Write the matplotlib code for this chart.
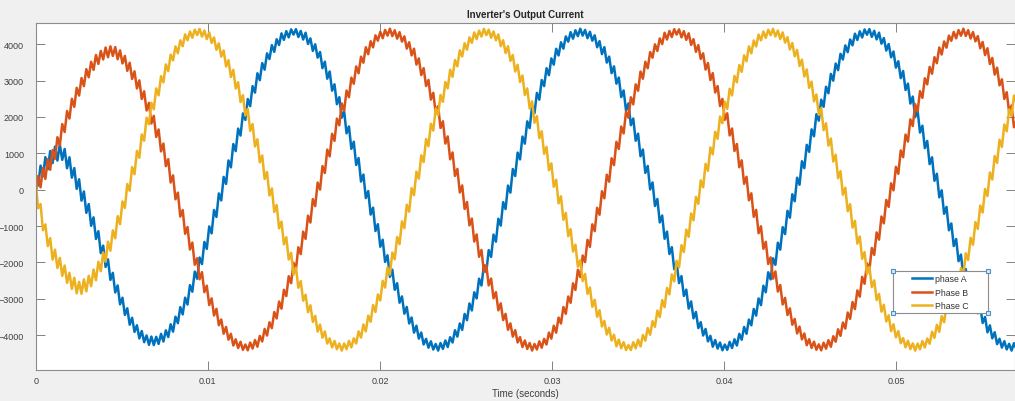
import numpy as np
import matplotlib
matplotlib.use("Agg")
import matplotlib.pyplot as plt
from matplotlib.patches import Rectangle

plt.rcParams["font.family"] = ["Liberation Sans", "DejaVu Sans"]

# sample times (ms): start-up transient read every 0.5 ms, then 15-degree steps of 60 Hz
t_ms = [0.0, 0.5, 1.0, 1.5, 2.0, 2.5, 3.0, 3.5, 4.0, 4.5, 5.0, 5.5, 6.0, 6.5, 7.0, 7.5, 8.0,
        8.750, 9.444, 10.139, 10.833, 11.528, 12.222, 12.917, 13.611, 14.306,
        15.000, 15.694, 16.389, 17.083, 17.778, 18.472, 19.167, 19.861, 20.556,
        21.250, 21.944, 22.639, 23.333, 24.028, 24.722, 25.417, 26.111, 26.806,
        27.500, 28.194, 28.889, 29.583, 30.278, 30.972, 31.667, 32.361, 33.056,
        33.750, 34.444, 35.139, 35.833, 36.528, 37.222, 37.917, 38.611, 39.306,
        40.000, 40.694, 41.389, 42.083, 42.778, 43.472, 44.167, 44.861, 45.556,
        46.250, 46.944, 47.639, 48.333, 49.028, 49.722, 50.417, 51.111, 51.806,
        52.500, 53.194, 53.889, 54.583, 55.278, 55.972, 56.667, 57.361]

phase_a = [200, 650, 950, 1060, 650, 100, -500, -1150, -1850, -2500, -3100, -3600, -3950, -4150, -4160, -4030, -3750,
           -3076, -2175, -1126, 0, 1126, 2175, 3076, 3767, 4202,
           4350, 4202, 3767, 3076, 2175, 1126, 0, -1126, -2175,
           -3076, -3767, -4202, -4350, -4202, -3767, -3076, -2175, -1126,
           0, 1126, 2175, 3076, 3767, 4202, 4350, 4202, 3767,
           3076, 2175, 1126, 0, -1126, -2175, -3076, -3767, -4202,
           -4350, -4202, -3767, -3076, -2175, -1126, 0, 1126, 2175,
           3076, 3767, 4202, 4350, 4202, 3767, 3076, 2175, 1126,
           0, -1126, -2175, -3076, -3767, -4202, -4350, -4202]

phase_b = [50, 450, 900, 1550, 2200, 2750, 3200, 3550, 3760, 3820, 3650, 3300, 2850, 2300, 1650, 950, 150,
           -1126, -2175, -3076, -3767, -4202, -4350, -4202, -3767, -3076,
           -2175, -1126, 0, 1126, 2175, 3076, 3767, 4202, 4350,
           4202, 3767, 3076, 2175, 1126, 0, -1126, -2175, -3076,
           -3767, -4202, -4350, -4202, -3767, -3076, -2175, -1126, 0,
           1126, 2175, 3076, 3767, 4202, 4350, 4202, 3767, 3076,
           2175, 1126, 0, -1126, -2175, -3076, -3767, -4202, -4350,
           -4202, -3767, -3076, -2175, -1126, 0, 1126, 2175, 3076,
           3767, 4202, 4350, 4202, 3767, 3076, 2175, 1126]

phase_c = [0, -1080, -1750, -2150, -2500, -2720, -2600, -2300, -1850, -1300, -600, 250, 1050, 1880, 2600, 3220, 3720,
           4202, 4350, 4202, 3767, 3076, 2175, 1126, 0, -1126,
           -2175, -3076, -3767, -4202, -4350, -4202, -3767, -3076, -2175,
           -1126, 0, 1126, 2175, 3076, 3767, 4202, 4350, 4202,
           3767, 3076, 2175, 1126, 0, -1126, -2175, -3076, -3767,
           -4202, -4350, -4202, -3767, -3076, -2175, -1126, 0, 1126,
           2175, 3076, 3767, 4202, 4350, 4202, 3767, 3076, 2175,
           1126, 0, -1126, -2175, -3076, -3767, -4202, -4350, -4202,
           -3767, -3076, -2175, -1126, 0, 1126, 2175, 3076]

labels = ["phase A", "Phase B", "Phase C"]
colors = ["#0072BD", "#D95319", "#EDB120"]

# switching ripple seen on the traces (zigzag), bigger near zero crossings
RIPPLE_T = 0.00028      # s, one tooth
RIPPLE_ZERO = 210.0     # half amplitude at zero crossing
RIPPLE_PEAK = 75.0      # half amplitude at the crest
I_PEAK = 4350.0

t_s = np.array(t_ms) / 1000.0
t_f = np.arange(0, 0.0572, RIPPLE_T / 2)
zig = np.where(np.arange(len(t_f)) % 2 == 0, 1.0, -1.0)

fig = plt.figure(figsize=(10.15, 4.02), dpi=100, facecolor="#f0f0f0")
ax = fig.add_axes([0.0352, 0.0779, 0.9648, 0.8621])
ax.set_facecolor("white")

for i, (vals, lab, col) in enumerate(zip([phase_a, phase_b, phase_c], labels, colors)):
    base = np.interp(t_f, t_s, np.array(vals, dtype=float))
    amp = RIPPLE_PEAK + (RIPPLE_ZERO - RIPPLE_PEAK) * np.sqrt(np.clip(1 - (base / I_PEAK) ** 2, 0, 1))
    sign = zig if i != 1 else -zig
    ax.plot(t_f, base + sign * amp, color=col, lw=1.8, label=lab, zorder=2 + i * 0.1)

ax.set_xlim(0, 0.0569)
ax.set_ylim(-4950, 4580)
ax.set_xticks([0, 0.01, 0.02, 0.03, 0.04, 0.05])
ax.set_xticklabels(["0", "0.01", "0.02", "0.03", "0.04", "0.05"])
ax.set_yticks(np.arange(-4000, 4001, 1000))
ax.tick_params(direction="in", top=True, right=True, length=6.5, width=0.6,
               color="#6e6e6e", labelsize=6.5, labelcolor="#404040")
ax.tick_params(axis="y", pad=8.5)
ax.tick_params(axis="x", pad=4.5)
for s in ax.spines.values():
    s.set_color("#8c8c8c")
    s.set_linewidth(0.8)

ax.set_title("Inverter's Output Current", fontsize=7, fontweight="bold", pad=4.5, color="#262626")
ax.set_xlabel("Time (seconds)", fontsize=7, color="#404040", labelpad=2)

# legend box (selected, with corner handles as in the screenshot)
bx, by, bw, bh = 0.875, 0.1635, 0.097, 0.120
ax.add_patch(Rectangle((bx, by), bw, bh, transform=ax.transAxes, facecolor="white",
                       edgecolor="#8c8c8c", lw=0.8, zorder=4.5))
ax.legend(frameon=False, loc="center", bbox_to_anchor=(bx + bw / 2, by + bh / 2),
          fontsize=6.3, handlelength=2.3, handletextpad=0.35, labelspacing=0.5,
          labelcolor="#333333")
ax.plot([bx, bx + bw, bx, bx + bw], [by, by, by + bh, by + bh], "s", ms=3.5,
        mfc="#dbe9f6", mec="#4f8fc9", mew=0.8, transform=ax.transAxes,
        clip_on=False, zorder=6)

fig.savefig("out.png", dpi=100, facecolor=fig.get_facecolor())
